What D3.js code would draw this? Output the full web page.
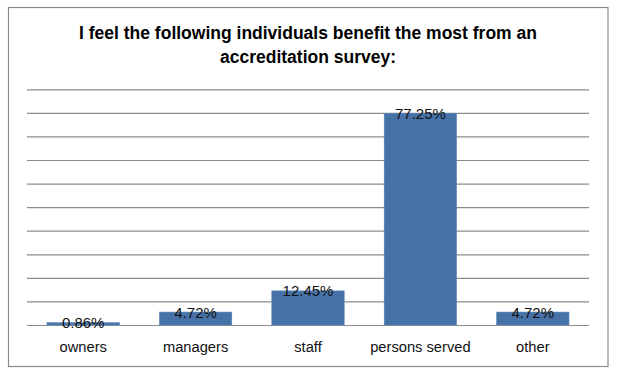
<!DOCTYPE html>
<html>
<head>
<meta charset="utf-8">
<script src="https://cdn.jsdelivr.net/npm/d3@7"></script>
<style>
  html, body { margin: 0; padding: 0; background: #fff; }
  svg { display: block; }
</style>
</head>
<body>
<svg id="chart" width="620" height="375"></svg>
<script>
const titleLines = ["I feel the following individuals benefit the most from an", "accreditation survey:"];
const categories = ["owners", "managers", "staff", "persons served", "other"];
const values = [0.86, 4.72, 12.45, 77.25, 4.72];
const valueLabels = ["0.86%", "4.72%", "12.45%", "77.25%", "4.72%"];
const yMax = 86;
const gridCount = 10;

const svg = d3.select("#chart");
const W = 620, H = 375;
const plot = { left: 27, right: 589, top: 89.3, bottom: 325 };
const font = "'Liberation Sans', Arial, sans-serif";

svg.append("rect").attr("x", 0).attr("y", 0).attr("width", W).attr("height", H).attr("fill", "#fff");
svg.append("rect")
  .attr("x", 8.5).attr("y", 7.5).attr("width", 599.5).attr("height", 359)
  .attr("fill", "#fff").attr("stroke", "#8a8a8a").attr("stroke-width", 1.2);

const x = d3.scaleBand().domain(categories).range([plot.left, plot.right])
  .paddingInner(0.356).paddingOuter(0.178);
const y = d3.scaleLinear().domain([0, yMax]).range([plot.bottom, plot.top]);

const gridVals = d3.range(gridCount + 1).map(i => i * yMax / gridCount);
const yAxis = d3.axisLeft(y).tickValues(gridVals).tickSize(-(plot.right - plot.left)).tickFormat("");
const gy = svg.append("g").attr("transform", `translate(${plot.left},0)`).call(yAxis);
gy.select(".domain").remove();
gy.selectAll(".tick line").attr("stroke", "#8c8c8c").attr("stroke-width", 1.2);

svg.append("g").selectAll("rect").data(values).join("rect")
  .attr("x", (d, i) => x(categories[i]))
  .attr("y", d => y(d))
  .attr("width", x.bandwidth())
  .attr("height", d => y(0) - y(d))
  .attr("fill", "#4672a7")
  .attr("stroke", "#5a86b9").attr("stroke-width", 0.6);

svg.append("g").selectAll("text").data(values).join("text")
  .attr("x", (d, i) => x(categories[i]) + x.bandwidth() / 2)
  .attr("y", d => y(d) + 5.5)
  .attr("text-anchor", "middle")
  .attr("font-family", font).attr("font-size", 15).attr("fill", "#111")
  .text((d, i) => valueLabels[i]);

const xAxis = d3.axisBottom(x).tickSize(0).tickPadding(0);
const gx = svg.append("g").attr("transform", `translate(0,${plot.bottom})`).call(xAxis);
gx.select(".domain").remove();
gx.selectAll(".tick text").attr("font-family", font).attr("font-size", 14.7).attr("fill", "#111")
  .attr("dy", 0).attr("y", 27);

svg.append("g").selectAll("text").data(titleLines).join("text")
  .attr("x", 308).attr("y", (d, i) => 38.5 + i * 24.5)
  .attr("text-anchor", "middle")
  .attr("font-family", font).attr("font-weight", "bold").attr("font-size", 17.5).attr("fill", "#000")
  .text(d => d);
</script>
</body>
</html>
